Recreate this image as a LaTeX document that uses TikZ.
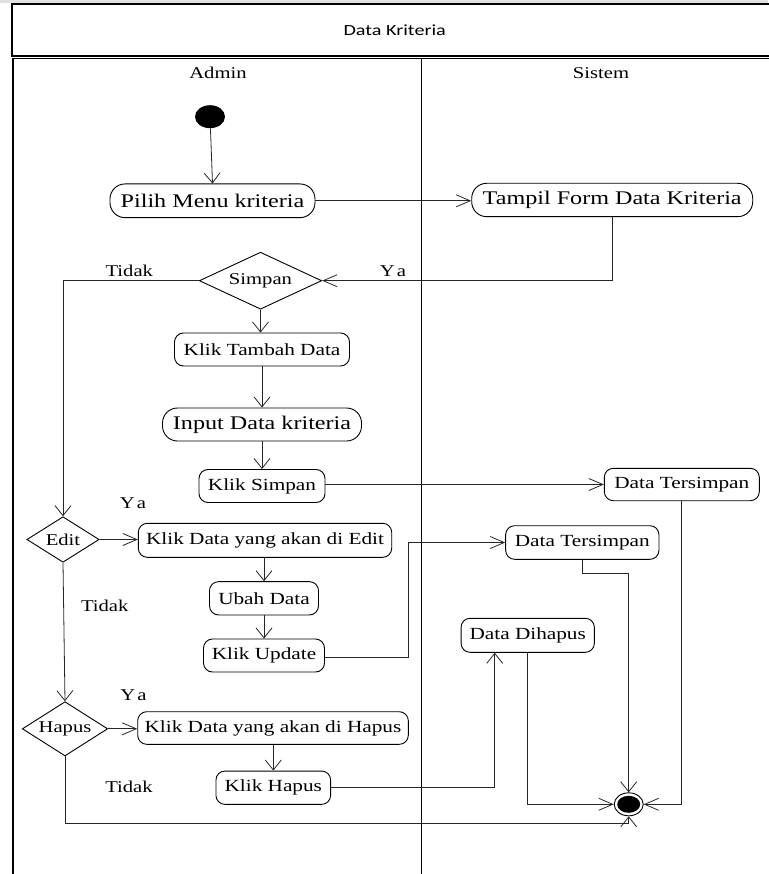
\documentclass[tikz,border=0pt]{standalone}
\usepackage{fontspec}
\setmainfont{Liberation Serif}[FakeStretch=1.25]
\newfontfamily\titlefont{Carlito}[FakeStretch=1.3]
\usetikzlibrary{arrows.meta,shapes.geometric}

\newcommand\actbigfont{\fontsize{19.3}{23}\selectfont}
\newcommand\actsmallfont{\fontsize{17}{20}\selectfont}
\newcommand\lblfont{\fontsize{16.5}{19}\selectfont}

\tikzset{
  frame/.style={draw=black, line width=1.2pt},
  act/.style={draw=black, line width=0.9pt, rounded corners=9pt, inner sep=0pt,
               font=\actsmallfont, fill=white},
  bigact/.style={act, rounded corners=15pt, font=\actbigfont},
  decision/.style={diamond, draw=black, line width=0.9pt, inner sep=0pt,
                   shape aspect=2, font=\lblfont},
  flow/.style={draw=black!85, line width=0.8pt},
  harr/.style={flow, -{Straight Barb[length=14pt,width=12pt]}},
  varr/.style={flow, -{Straight Barb[length=10pt,width=16pt]}},
  lbl/.style={font=\lblfont, inner sep=0pt}
}

\begin{document}
\begin{tikzpicture}[x=1pt,y=-1pt]
\useasboundingbox (0,0) rectangle (768,874);
\fill[black!12] (0,0) rectangle (768,3);

% title frame
\draw[frame] (12,4) rectangle (775,56);
\node[font={\titlefont\fontsize{15.5}{18}\selectfont}] (title) at (394.7,30) {Data Kriteria};

% swimlanes
\draw[frame] (13,880) -- (13,58.7) -- (775,58.7);
\draw[frame] (421.7,58.7) -- (421.7,880);
\node[lbl] (admin) at (218,72.5) {Admin};
\node[lbl] (sistem) at (601,73.5) {Sistem};

% activities and decisions
\node[fill=black, ellipse, minimum width=30pt, minimum height=23pt, inner sep=0pt] (start) at (210,116.7) {};
\node[bigact, minimum width=205pt, minimum height=33.7pt] (pilih) at (212.5,200.8) {Pilih Menu kriteria};
\node[bigact, minimum width=281pt, minimum height=33.4pt] (tampil) at (612.2,200) {Tampil Form Data Kriteria};
\node[decision, minimum width=122.4pt, minimum height=57pt] (simpan) at (260.5,280.7) {Simpan};
\node[act, minimum width=175pt, minimum height=33pt] (tambah) at (262,349.5) {Klik Tambah Data};
\node[bigact, minimum width=199pt, minimum height=33pt] (input) at (262,424.5) {Input Data kriteria};
\node[act, minimum width=126pt, minimum height=33pt] (ksimpan) at (262,486) {Klik Simpan};
\node[act, minimum width=155pt, minimum height=32.4pt] (dt1) at (681.8,484.5) {Data Tersimpan};
\node[decision, minimum width=72.3pt, minimum height=45.6pt] (edit) at (63,539.5) {Edit};
\node[act, minimum width=253.4pt, minimum height=34pt] (kedit) at (265,540.3) {Klik Data yang akan di Edit};
\node[act, minimum width=109pt, minimum height=33.3pt] (ubah) at (264,598.3) {Ubah Data};
\node[act, minimum width=121pt, minimum height=33pt] (kupdate) at (264,655.5) {Klik Update};
\node[act, minimum width=153.3pt, minimum height=33.6pt] (dt2) at (582.3,542.5) {Data Tersimpan};
\node[decision, minimum width=85.4pt, minimum height=54.3pt] (hapus) at (65,728.8) {Hapus};
\node[act, minimum width=270.6pt, minimum height=32.6pt] (khd) at (273,728) {Klik Data yang akan di Hapus};
\node[act, minimum width=114.7pt, minimum height=33.3pt] (khapus) at (273.3,787.7) {Klik Hapus};
\node[act, minimum width=133.3pt, minimum height=34pt] (dihapus) at (527.7,635.3) {Data Dihapus};
\node[ellipse, draw=black, line width=0.9pt, fill=white, minimum width=29pt, minimum height=23pt, inner sep=0pt] (final) at (628.7,804.3) {};
\node[ellipse, fill=black, minimum width=23pt, minimum height=17pt, inner sep=0pt] (finalcore) at (final) {};

% guard labels
\node[lbl] (tidak1) at (129.3,270.5) {Tidak};
\node[lbl] (ya1) at (393,271) {Y\kern2pt a};
\node[lbl] (ya2) at (133,502.7) {Y\kern2pt a};
\node[lbl] (tidak2) at (104.7,606) {Tidak};
\node[lbl] (ya3) at (133.5,695) {Y\kern2pt a};
\node[lbl] (tidak3) at (129,787.3) {Tidak};

% control flow
\draw[varr] (start) -- (pilih.north);
\draw[harr] (pilih.east) -- (pilih.east -| tampil.west);
\draw[harr] (tampil.south) |- (simpan.east);
\draw[varr] (simpan.south) -- (simpan.south |- tambah.north);
\draw[varr] (simpan.west) -| (edit.north);
\draw[varr] (tambah.south) -- (input.north);
\draw[varr] (input.south) -- (ksimpan.north);
\draw[harr] (ksimpan.east |- dt1.west) -- (dt1.west);
\draw[harr] (edit.east) -- (edit.east -| kedit.west);
\draw[varr] (kedit.south -| ubah.north) -- (ubah.north);
\draw[varr] (ubah.south) -- (kupdate.north);
\draw[harr] ([yshift=-2pt]kupdate.east) -- ++(83.5,0) |- (dt2.west);
\draw[varr] (edit.south) -- (hapus.north);
\draw[harr] (hapus.east) -- (hapus.east -| khd.west);
\draw[varr] (khd.south -| khapus.north) -- (khapus.north);
\draw[varr] (khapus.east) -| ([xshift=-33pt]dihapus.south);
\draw[harr] (dihapus.south) |- (final.west);
\draw[varr] (dt2.south) -- ++(0,14) -| (final.north);
\draw[harr] (dt1.south) |- (final.east);
\draw[varr] (hapus.south) -- ++(0,66.5) -| (final.south);
\end{tikzpicture}
\end{document}
